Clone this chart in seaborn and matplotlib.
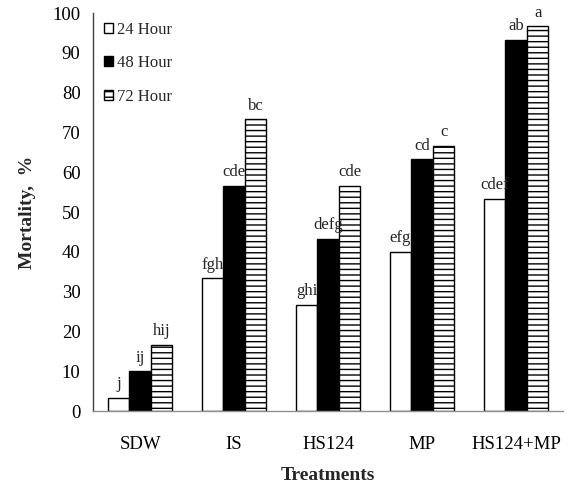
import matplotlib
matplotlib.use("Agg")
import matplotlib.pyplot as plt
import seaborn as sns
import pandas as pd

treatments = ["SDW", "IS", "HS124", "MP", "HS124+MP"]
periods = ["24 Hour", "48 Hour", "72 Hour"]
mort_24 = [3.33, 33.33, 26.67, 40.0, 53.33]
mort_48 = [10.0, 56.67, 43.33, 63.33, 93.33]
mort_72 = [16.67, 73.33, 56.67, 66.67, 96.67]
letters_24 = ["j", "fgh", "ghi", "efg", "cdef"]
letters_48 = ["ij", "cde", "defg", "cd", "ab"]
letters_72 = ["hij", "bc", "cde", "c", "a"]

rows = []
for vals, p in zip([mort_24, mort_48, mort_72], periods):
    for t, v in zip(treatments, vals):
        rows.append({"Treatment": t, "Period": p, "Mortality": v})
df = pd.DataFrame(rows)

sns.set_style("white")
plt.rcParams["font.family"] = ["Liberation Serif", "DejaVu Serif"]
plt.rcParams["hatch.linewidth"] = 1.0

fig = plt.figure(figsize=(5.71, 4.86), dpi=100)
ax = fig.add_axes([0.163, 0.154, 0.823, 0.819])

sns.barplot(data=df, x="Treatment", y="Mortality", hue="Period",
            order=treatments, hue_order=periods,
            palette=["white", "black", "white"], edgecolor="black",
            linewidth=1.0, width=0.69, saturation=1, errorbar=None, ax=ax,
            legend=False)

for i, cont in enumerate(ax.containers):
    for bar in cont.patches:
        bar.set_edgecolor("black")
        if i == 2:
            bar.set_hatch("---")

all_letters = [letters_24, letters_48, letters_72]
for cont, labs in zip(ax.containers, all_letters):
    ax.bar_label(cont, labels=labs, padding=4, fontsize=12)

ax.set_ylim(0, 100)
ax.set_xlim(-0.5, 4.5)
ax.set_yticks(range(0, 101, 10))
ax.set_xticks([0, 1, 2, 3, 4])
ax.set_xticklabels(treatments)
ax.set_xticks([-0.5, 0.5, 1.5, 2.5, 3.5, 4.5], minor=True)
ax.tick_params(axis="x", which="major", length=0, pad=18, labelsize=13.5, labelcolor="black")
ax.tick_params(axis="x", which="minor", length=5, width=0.8, colors="#808080", direction="out")
ax.tick_params(axis="y", length=6, width=0.8, colors="#808080", direction="out",
               labelsize=13.5, pad=3, labelcolor="black")

for s in ["top", "right"]:
    ax.spines[s].set_visible(False)
ax.spines["left"].set_color("#404040")
ax.spines["bottom"].set_color("#909090")
ax.spines["left"].set_linewidth(1.0)
ax.spines["bottom"].set_linewidth(1.0)

ax.set_xlabel("Treatments", fontsize=14, fontweight="bold", labelpad=10)
ax.set_ylabel("Mortality,  %", fontsize=14, fontweight="bold", labelpad=12)

ax.legend(handles=ax.containers, labels=periods, loc="upper left",
          bbox_to_anchor=(-0.012, 1.02), frameon=False, fontsize=12,
          handlelength=0.55, handleheight=0.55, handletextpad=0.25,
          labelspacing=1.05, borderaxespad=0.6)

fig.savefig("out.png", dpi=100)
